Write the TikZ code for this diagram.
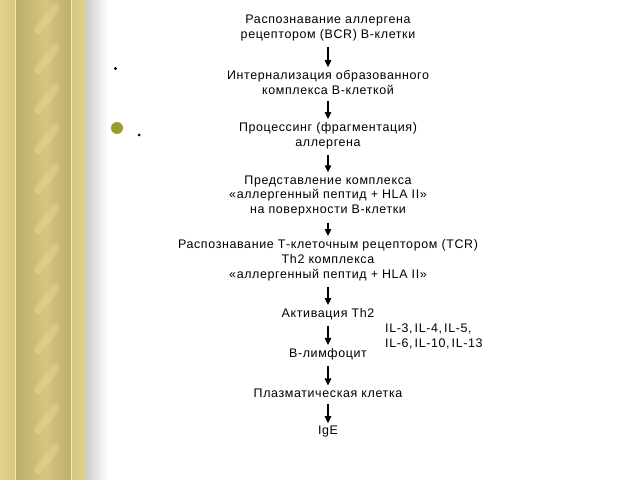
\documentclass[tikz,border=0pt]{standalone}
\usepackage{fontspec}
\setmainfont{Liberation Sans}[LetterSpace=5]
\usetikzlibrary{arrows.meta}
\definecolor{goldL}{HTML}{E2D28A}
\definecolor{goldM}{HTML}{D6C680}
\definecolor{goldD}{HTML}{BBAD6C}
\definecolor{ropeL}{HTML}{E8D994}
\definecolor{olive}{HTML}{9C9A2C}
\tikzset{
  lbl/.style={align=center,inner sep=0pt,font=\fontsize{12.5}{15}\selectfont},
  arr/.style={line width=1.1bp,-{Triangle[width=6.5bp,length=7bp]},shorten <=6bp,shorten >=3bp},
  rope/.style={line width=8bp,ropeL,opacity=0.45,line cap=round}
}
\begin{document}
\begin{tikzpicture}[x=1bp,y=-1bp]
\useasboundingbox (0,0) rectangle (640,480);
\fill[white] (0,0) rectangle (640,480);
% decorative border
\shade[left color=goldL,right color=goldM] (0,0) rectangle (15,480);
\fill[goldL!50!white] (15,0) rectangle (16,480);
\shade[left color=goldD,right color=goldM] (16,0) rectangle (45,480);
\shade[left color=goldM,right color=goldD] (45,0) rectangle (71,480);
\fill[goldL!50!white] (71,0) rectangle (72,480);
\shade[left color=goldM,right color=goldL] (72,0) rectangle (86,480);
\shade[left color=black!20,right color=white] (86,0) rectangle (108,480);
\begin{scope}
\clip (28,0) rectangle (62,480);
\foreach \k in {-1,...,12} {
  \draw[rope] (38,{\k*40+30}) -- (56,{\k*40+8});
}
\end{scope}
% bullets
\fill[black] (115.5,68.5) circle (1.6);
\fill[olive] (117,128) circle (6);
\fill[black] (139,135) circle (1.5);
% flow
\node[lbl] (n1) at (328,28) {Распознавание аллергена\\рецептором (BCR) В-клетки};
\node[lbl] (n2) at (328,82.5) {Интернализация образованного\\комплекса В-клеткой};
\node[lbl] (n3) at (328,135.5) {Процессинг (фрагментация)\\аллергена};
\node[lbl] (n4) at (328,196) {Представление комплекса\\«аллергенный пептид + HLA II»\\на поверхности В-клетки};
\node[lbl] (n5) at (328,260) {Распознавание Т-клеточным рецептором (TCR)\\Th2 комплекса\\«аллергенный пептид + HLA II»};
\node[lbl] (n6) at (328,314) {Активация Th2};
\node[lbl] (n7) at (328,354) {В-лимфоцит};
\node[lbl] (n8) at (328,393) {Плазматическая клетка};
\node[lbl] (n9) at (328,432) {IgE};
\node[lbl,align=left,anchor=west] (il) at (385,336) {IL-3,\,IL-4,\,IL-5,\\IL-6,\,IL-10,\,IL-13};
\draw[arr] (n1.south) -- (n2.north);
\draw[arr] (n2.south) -- (n3.north);
\draw[arr] (n3.south) -- (n4.north);
\draw[arr] (n4.south) -- (n5.north);
\draw[arr] (n5.south) -- (n6.north);
\draw[arr] (n6.south) -- (n7.north);
\draw[arr] (n7.south) -- (n8.north);
\draw[arr] (n8.south) -- (n9.north);
\end{tikzpicture}
\end{document}
